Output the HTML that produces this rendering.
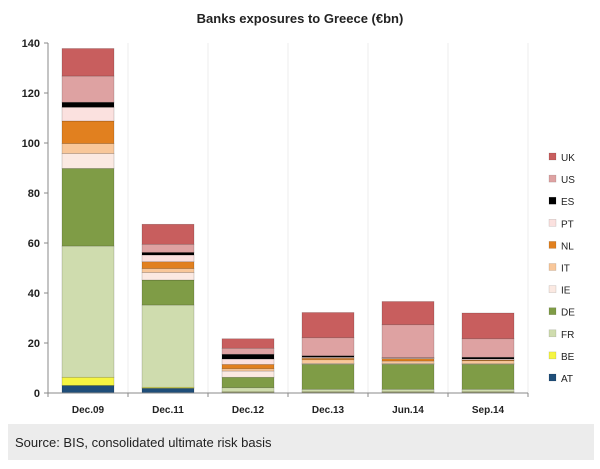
<!DOCTYPE html>
<html><head><meta charset="utf-8"><style>
body{margin:0;background:#fff;font-family:"Liberation Sans",sans-serif}
#wrap{position:relative;width:600px;height:469px;overflow:hidden;background:#fff}
</style></head><body>
<div id="wrap">
<svg id="chart" width="600" height="469"></svg>
</div>
<script>
const categories=["Dec.09","Dec.11","Dec.12","Dec.13","Jun.14","Sep.14"];
const seriesNames=["AT","BE","FR","DE","IE","IT","NL","PT","ES","US","UK"];
const seriesColors=["#1f4e79","#f5f542","#cfdcae","#7f9c46","#fbe9e2","#f8c79a","#e1801f","#fbe1df","#000000","#dea2a2","#c85e5e"];
const AT=[3,1.9,0.3,0.3,0.3,0.3];
const BE=[3.3,0.4,0.2,0.2,0.2,0.2];
const FR=[52.5,32.9,1.6,1,1,1];
const DE=[31,10,4.2,10,10,10];
const IE=[6,3,2.5,0.3,0.3,0.2];
const IT=[4,1.6,0.9,1.5,1,1.2];
const NL=[9,2.7,1.7,0.6,0.9,0.3];
const PT=[5.5,2.7,2.2,0.4,0.3,0.4];
const ES=[2,1,1.9,0.6,0.1,0.7];
const US=[10.5,3.3,2.4,7.2,13.2,7.4];
const UK=[11,8,3.8,10.1,9.3,10.3];
const series=[AT,BE,FR,DE,IE,IT,NL,PT,ES,US,UK];
const yTicks=[0,20,40,60,80,100,120,140];

const NS="http://www.w3.org/2000/svg";
const svg=document.getElementById('chart');
const x0=48,x1=528,y0=393,y1=43,yMax=140;
const band=(x1-x0)/categories.length, barW=52;
const yS=v=>y0-(v/yMax)*(y0-y1);
const xC=i=>x0+band*(i+0.5);
function mk(t,a){const e=document.createElementNS(NS,t);for(const k in a)e.setAttribute(k,a[k]);svg.appendChild(e);return e;}

let t=mk('text',{x:300,y:23,'text-anchor':'middle','font-size':13,'font-weight':'bold',fill:'#222'});
t.textContent="Banks exposures to Greece  (€bn)";



// vertical grid
for(let i=0;i<=categories.length;i++){
 const g=mk('line',{x1:x0+band*i,x2:x0+band*i,y1:y1,y2:y0,stroke:'#eeeeee'});
 
 
}
// y axis
let ax=mk('line',{x1:x0,x2:x0,y1:y1,y2:y0,stroke:'#888'});


yTicks.forEach(v=>{
 const tk=mk('line',{x1:x0-4,x2:x0,y1:yS(v),y2:yS(v),stroke:'#888'});
 
 
 const l=mk('text',{x:x0-8,y:yS(v)+4,'text-anchor':'end','font-size':11,'font-weight':'bold',fill:'#222'});
 l.textContent=v;
 
 
});
// bars
categories.forEach((c,i)=>{
 let acc=0;
 series.forEach((s,k)=>{
  const v=s[i];
  const r=mk('rect',{x:xC(i)-barW/2,y:yS(acc+v),width:barW,height:yS(acc)-yS(acc+v),fill:seriesColors[k],stroke:'rgba(0,0,0,0.25)','stroke-width':0.6});
  
  
  acc+=v;
 });
 const l=mk('text',{x:xC(i),y:413,'text-anchor':'middle','font-size':10,'font-weight':'bold',fill:'#222'});
 l.textContent=c;
 
 
});
let xa=mk('line',{x1:x0,x2:x1,y1:y0,y2:y0,stroke:'#888'});


for(let i=0;i<=categories.length;i++){
 const tk=mk('line',{x1:x0+band*i,x2:x0+band*i,y1:y0,y2:y0+4,stroke:'#888'});
 
 
}
// legend
for(let k=seriesNames.length-1;k>=0;k--){
 const idx=seriesNames.length-1-k;
 const y=157+idx*22.1;
 const r=mk('rect',{x:549,y:y-4,width:7,height:7,fill:seriesColors[k],stroke:'rgba(0,0,0,0.2)','stroke-width':0.5});
 
 
 const l=mk('text',{x:561,y:y+4,'font-size':10,fill:'#222'});
 l.textContent=seriesNames[k];
 
 
}
// source
const sb=mk('rect',{x:8,y:424,width:586,height:36,fill:'#ececec'});


const st=mk('text',{x:15,y:447,'font-size':13,fill:'#222'});
st.textContent="Source: BIS, consolidated ultimate risk basis";


</script>
</body></html>
